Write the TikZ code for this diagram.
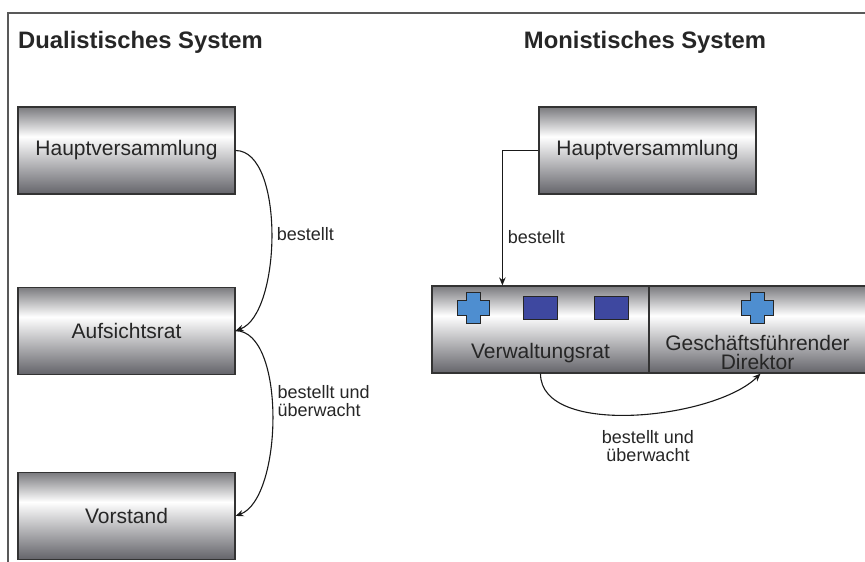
\documentclass[tikz,border=0pt]{standalone}
\usepackage{fontspec}
\setmainfont{Liberation Sans}
\usetikzlibrary{positioning,arrows.meta}
\definecolor{boxtop}{RGB}{122,122,126}
\definecolor{boxbot}{RGB}{100,100,106}
\definecolor{crossblue}{RGB}{78,142,208}
\definecolor{rectblue}{RGB}{62,72,160}
\pgfdeclareverticalshading{organshade}{100bp}{color(0bp)=(boxbot); color(25bp)=(boxbot); color(58bp)=(white); color(75bp)=(boxtop); color(100bp)=(boxtop)}
\tikzset{
  organ/.style={draw=black!80, line width=1.2pt, shade, shading=organshade, minimum width=217pt, minimum height=87pt, inner sep=0pt, font=\fontsize{21}{19.5}\selectfont, text=black!85},
  organtext/.style={font=\fontsize{21}{19.5}\selectfont, text=black!85, inner sep=0pt, align=center},
  lbl/.style={font=\fontsize{18}{18}\selectfont, text=black!85, inner sep=5pt},
  ttl/.style={font=\fontsize{23.8}{28}\selectfont\bfseries, text=black!85, inner sep=0pt},
  link/.style={line width=1.1pt, black!90, -{Stealth[length=8pt,width=6.5pt]}},
  bluerect/.style={draw=black!85, line width=0.9pt, fill=rectblue, minimum width=34pt, minimum height=23pt, inner sep=0pt},
  plusicon/.pic={\draw[line width=0.9pt, draw=black!85, fill=crossblue] (-7,15.5) -- (7,15.5) -- (7,7.5) -- (16,7.5) -- (16,-7.5) -- (7,-7.5) -- (7,-15.5) -- (-7,-15.5) -- (-7,-7.5) -- (-16,-7.5) -- (-16,7.5) -- (-7,7.5) -- cycle;}
}
\begin{document}
\begin{tikzpicture}[x=1pt,y=1pt]
            \useasboundingbox (0,0) rectangle (865,-562);
            \draw[black!65, line width=1.2pt] (8,-562) -- (8,-13) -- (865,-13);
            \node[ttl, anchor=west] (dualtitle) at (18,-42) {Dualistisches System};
            \node[ttl] (monotitle) at (645,-42) {Monistisches System};
            % dualistisch
            \node[organ] (hvd) at (126.5,-150.5) {Hauptversammlung};
            \node[organ, below=92pt of hvd] (ar) {Aufsichtsrat};
            \node[organ, below=97pt of ar] (vd) {Vorstand};
            \draw[link] (hvd.east) to[out=0, in=20, looseness=0.7] node[lbl, right] {bestellt} (ar.east);
            \draw[link] (ar.east) to[out=0, in=20, looseness=0.7] node[lbl, right, align=left, pos=0.44] {bestellt und\\überwacht} (vd.east);
            % monistisch
            \node[organ] (hvm) at (647.5,-150.5) {Hauptversammlung};
            \node[organ] (vr) at (540.5,-329.5) {};
            \node[organ, right=-1.2pt of vr] (gf) {};
            \node[organtext] (vrtext) at ([yshift=-24pt]vr.center) {Verwaltungsrat};
            \node[organtext] (gftext) at ([yshift=-23pt]gf.center) {Geschäftsführender\\Direktor};
            \pic at ([xshift=-67.5pt, yshift=22pt]vr.center) {plusicon};
            \node[bluerect] (vrrect1) at ([yshift=22pt]vr.center) {};
            \node[bluerect] (vrrect2) at ([xshift=70.5pt, yshift=22pt]vr.center) {};
            \pic at ([yshift=21.5pt]gf.center) {plusicon};
            \draw[link] (hvm.west) -| node[lbl, right, pos=0.82] {bestellt} ([xshift=71pt]vr.north west);
            \draw[link] (vr.south) to[out=-90, in=-135, looseness=0.75] ([xshift=3pt]gf.south);
            \node[lbl, align=center] (vgtext) at (648,-446.5) {bestellt und\\überwacht};
\end{tikzpicture}
\end{document}
